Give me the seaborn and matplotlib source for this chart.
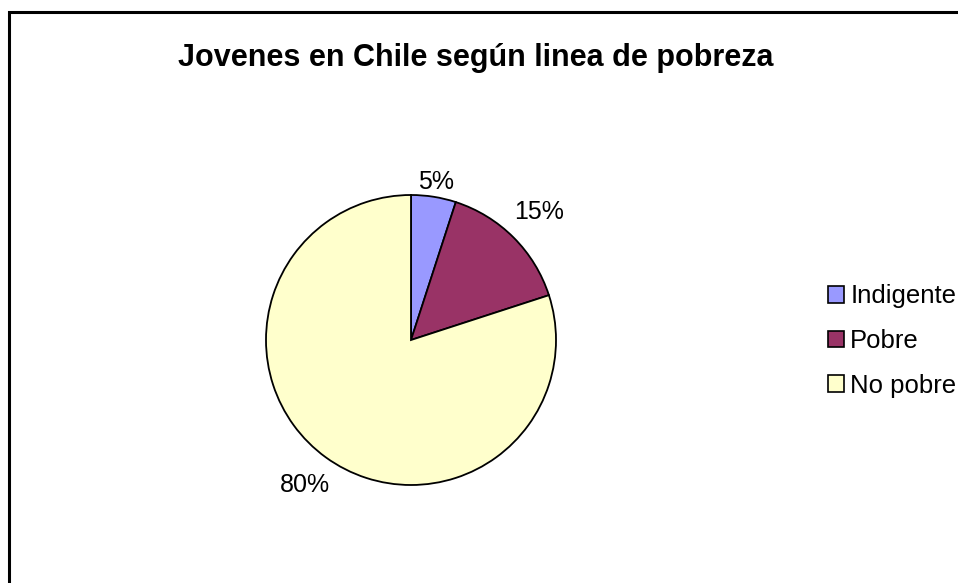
import matplotlib
matplotlib.use('Agg')
import matplotlib.pyplot as plt
import matplotlib.patches as mpatches
import numpy as np
import seaborn as sns

sns.set_style('white')
plt.rcParams['font.family'] = ['Liberation Sans', 'DejaVu Sans']
plt.rcParams['text.color'] = 'black'

# --- Data ---
categories = ['Indigente', 'Pobre', 'No pobre']
shares = [5, 15, 80]
colors = ['#9999FF', '#993366', '#FFFFCC']
title = 'Jovenes en Chile según linea de pobreza'

# label distance from centre (in radii), one per wedge
label_dist = [1.10, 1.25, 1.24]

W, H = 958, 583
fig = plt.figure(figsize=(W / 100, H / 100), dpi=100)

# outer chart border (cut by the image edge on the right and bottom)
border = mpatches.Rectangle((9 / W, -0.05), 1.1, (H - 12) / H + 0.05,
                            transform=fig.transFigure, fill=False,
                            edgecolor='black', linewidth=2.2)
fig.patches.append(border)

# pie axes: center (411, 340), radius 145 px
cx, cy, r = 411, 340, 145
ax = fig.add_axes([(cx - r) / W, (H - cy - r) / H, 2 * r / W, 2 * r / H])
wedges, texts, autotexts = ax.pie(
    shares, colors=colors, startangle=90, counterclock=False,
    autopct=lambda p: f'{p:.0f}%', pctdistance=1.2, radius=1,
    wedgeprops=dict(edgecolor='black', linewidth=1.3),
    textprops=dict(fontsize=18, color='black'))

# move each percentage label along its wedge bisector
for w, t, d in zip(wedges, autotexts, label_dist):
    ang = np.deg2rad((w.theta1 + w.theta2) / 2)
    t.set_position((d * np.cos(ang), d * np.sin(ang)))

ax.set_xlim(-1, 1)
ax.set_ylim(-1, 1)
ax.set_aspect('equal')
ax.axis('off')

fig.text(476 / W, 1 - 58 / H, title, ha='center', va='center',
         fontsize=22, fontweight='bold', color='black')

handles = [mpatches.Patch(facecolor=c, edgecolor='black', linewidth=1.2)
           for c in colors]
leg = fig.legend(handles, categories, loc='center left',
                 bbox_to_anchor=(828 / W, 1 - 341 / H), frameon=False,
                 fontsize=18.5, handlelength=0.62, handleheight=0.62,
                 handletextpad=0.25, labelspacing=0.8, borderpad=0,
                 borderaxespad=0)
for t in leg.get_texts():
    t.set_color('black')

fig.savefig('out.png', dpi=100, facecolor='white')
